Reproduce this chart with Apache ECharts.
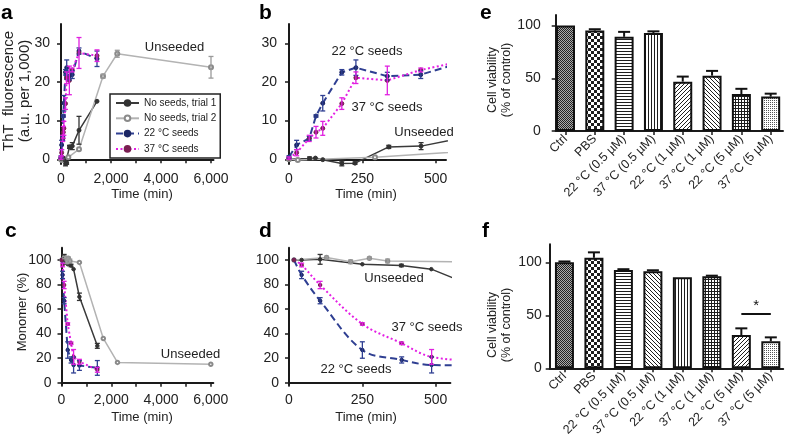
<!DOCTYPE html>
<html><head><meta charset="utf-8">
<script src="https://cdn.jsdelivr.net/npm/echarts@6/dist/echarts.min.js"></script>
<style>html,body{margin:0;padding:0;background:#fff}#c{width:788px;height:447px}</style>
</head><body><div id="c"></div>
<script>
// ---------------- DATA ----------------
// ThT fluorescence (a.u. per 1,000) — panels a & b
const thtT1Time = [0, 70, 90, 115, 180, 225, 340, 450, 720, 1440];
const thtT1Val  = [0, 0.2, 0.3, -0.1, -1.1, -1.0, 3.2, 3.4, 7.5, 15.0];
const thtT1Err  = [0, 0.4, 0, 0, 0.6, 0.3, 0.4, 0.9, 3.6, 0];
const thtT2Time = [0, 30, 293, 720, 1680, 2250, 6000];
const thtT2Val  = [0, -0.2, 0.5, 2.6, 21.5, 27.3, 23.8];
const thtT2Err  = [0, 0, 0, 0, 0.5, 0.9, 2.8];
const thtSeedTime = [0, 26, 69, 92, 115, 180, 228, 335, 449, 720, 1440];
const tht22Val = [0.6, 3.7, 5.4, 11.2, 14.5, 22.5, 23.7, 21.5, 21.9, 28.0, 26.0];
const tht22Err = [0.3, 1.2, 0.5, 0.3, 2.0, 0.7, 2.0, 1.0, 1.0, 0.8, 2.0];
const tht37Val = [0.3, 1.7, 5.4, 7.0, 8.0, 14.4, 21.1, 20.4, 23.1, 27.5, 26.8];
const tht37Err = [0.3, 0.8, 0.8, 1.5, 1.8, 1.5, 1.5, 3.7, 0.5, 4.0, 1.5];
// Monomer (%) — panels c & d
const monT1Time = [17, 43, 106, 250, 383, 485, 720, 1440];
const monT1Val  = [100, 100, 100.5, 96.5, 95.5, 92.5, 70, 30];
const monT1Err  = [0, 0, 4, 0, 1, 0, 3, 2];
const monT2Time = [17, 128, 210, 274, 336, 720, 1680, 2250, 6000];
const monT2Val  = [100, 102, 98.5, 101.4, 99.2, 98, 36, 16.5, 15];
const monT2Err  = [0, 1, 1.5, 1, 1.5, 0, 0, 0, 0];
const monSeedTime = [17, 43, 106, 250, 384, 486, 720, 1440];
const mon22Val = [100, 87.8, 66.8, 26.6, 18.5, 14.4, 14, 12];
const mon22Err = [0, 3, 2.5, 6.7, 2.5, 6.5, 4, 6];
const mon37Val = [100, 95.9, 79.6, 47.8, 32.1, 21, 17, 10.5];
const mon37Err = [0, 1.5, 3, 1, 1, 6, 2, 2];
// Cell viability (% of control) — panels e & f
const viabilityCats = ['Ctrl', 'PBS', '22 °C (0.5 µM)', '37 °C (0.5 µM)', '22 °C (1 µM)', '37 °C (1 µM)', '22 °C (5 µM)', '37 °C (5 µM)'];
const viabilityE    = [100, 95.2, 89.3, 93.0, 46.8, 52.5, 35.1, 32.6];
const viabilityEErr = [0, 1.3, 4.7, 1.5, 4.8, 4.5, 4.9, 2.8];
const viabilityF    = [100, 104.3, 92.7, 91.5, 85.8, 86.8, 31.4, 25.5];
const viabilityFErr = [0.8, 5.1, 0.8, 1.0, 0, 0.6, 6.3, 3.7];
const sigPair = [6, 7];
const sigLevel = 51;
// Tick values / labels
const longTimeTicks  = [0, 1000, 2000, 3000, 4000, 5000, 6000];
const longTimeLabels = [0, 2000, 4000, 6000];
const shortTimeTicks = [0, 250, 500];
const thtTicks = [0, 10, 20, 30];
const monTicks = [0, 20, 40, 60, 80, 100];
const viaTicks = [0, 50, 100];
const catTicks = [0, 1, 2, 3, 4, 5, 6, 7];
const seriesNames = ['No seeds, trial 1', 'No seeds, trial 2', '22 °C seeds', '37 °C seeds'];

// ---------------- STYLE HELPERS ----------------
const FONT = 'Liberation Sans, Arial, Helvetica, sans-serif';
const AX = '#1a1a1a';
function zip(t, v, e) { return t.map((x, i) => e ? [x, v[i], e[i]] : [x, v[i]]); }

const styles = [
  { line: { color: '#3a3a3a', width: 1.5, type: 'solid' }, sym: 'circle', symColor: '#333', err: '#333' },
  { line: { color: '#b3b3b3', width: 1.5, type: 'solid' }, sym: 'emptyCircle', symColor: '#8a8a8a', err: '#9a9a9a' },
  { line: { color: '#2f3f92', width: 2, type: [7, 4] }, sym: 'circle', symColor: '#1c2766', err: '#2f3f92' },
  { line: { color: '#e41fe4', width: 2, type: [2, 2.5] }, sym: 'circle', symColor: '#7a1f52', err: '#e020e0' }
];

function errRender(color, capHalf, lw, upperOnly) {
  return function (params, api) {
    const x = api.value(0), y = api.value(1), e = api.value(2);
    if (!e) return;
    const cs = params.coordSys;
    const top = api.coord([x, y + e]);
    const bot = api.coord([x, upperOnly ? y : y - e]);
    if (top[0] < cs.x - 1 || top[0] > cs.x + cs.width + 1) return;
    const ch = [
      { type: 'line', shape: { x1: top[0], y1: top[1], x2: bot[0], y2: bot[1] }, style: { stroke: color, lineWidth: lw } },
      { type: 'line', shape: { x1: top[0] - capHalf, y1: top[1], x2: top[0] + capHalf, y2: top[1] }, style: { stroke: color, lineWidth: lw } }
    ];
    if (!upperOnly) ch.push({ type: 'line', shape: { x1: bot[0] - capHalf, y1: bot[1], x2: bot[0] + capHalf, y2: bot[1] }, style: { stroke: color, lineWidth: lw } });
    return { type: 'group', children: ch };
  };
}

const series = [];
function addLines(gi, sets, symSize, smoothIdx) {
  sets.forEach((s, k) => {
    const st = styles[k];
    series.push({
      type: 'line', name: seriesNames[k], xAxisIndex: gi, yAxisIndex: gi,
      data: zip(s[0], s[1]), symbol: st.sym, symbolSize: symSize, showSymbol: true,
      smooth: (smoothIdx && smoothIdx.includes(k)) ? 0.35 : false,
      lineStyle: st.line, itemStyle: { color: st.symColor, borderColor: st.symColor, borderWidth: 1 },
      z: 3 + (k >= 2 ? 1 : 0), clip: true, animation: false
    });
    series.push({
      type: 'custom', name: seriesNames[k] + ' err' + gi, xAxisIndex: gi, yAxisIndex: gi,
      data: zip(s[0], s[1], s[2]), renderItem: errRender(st.err, 2.5, 1.3, false), z: 5, animation: false
    });
  });
}
const thtSets = [[thtT1Time, thtT1Val, thtT1Err], [thtT2Time, thtT2Val, thtT2Err], [thtSeedTime, tht22Val, tht22Err], [thtSeedTime, tht37Val, tht37Err]];
const monSets = [[monT1Time, monT1Val, monT1Err], [monT2Time, monT2Val, monT2Err], [monSeedTime, mon22Val, mon22Err], [monSeedTime, mon37Val, mon37Err]];
addLines(0, thtSets, 4);
addLines(1, thtSets, 4);
addLines(2, monSets, 3.5);
addLines(3, monSets, 3.5, [2, 3]);

// patterns for bars
function pat(draw, w, h) {
  const c = document.createElement('canvas'); c.width = w; c.height = h;
  const g = c.getContext('2d'); g.fillStyle = '#fff'; g.fillRect(0, 0, w, h);
  g.fillStyle = '#1e1e1e'; draw(g, w, h); return { image: c, repeat: 'repeat' };
}
const P = {
  fineChecker: pat(g => { g.fillStyle = '#aaa'; g.fillRect(0, 0, 2, 2); g.fillStyle = '#222'; g.fillRect(0, 0, 1, 1); g.fillRect(1, 1, 1, 1); }, 2, 2),
  checker: pat(g => { g.fillRect(0, 0, 3, 3); g.fillRect(3, 3, 3, 3); }, 6, 6),
  hLines: pat(g => { g.fillRect(0, 0, 3, 1); }, 3, 3),
  vLines: pat(g => { g.fillRect(0, 0, 1, 3); }, 3, 3),
  diagF: pat(g => { for (let i = 0; i < 4; i++) g.fillRect(3 - i, i, 1, 1); }, 4, 4),
  diagB: pat(g => { for (let i = 0; i < 4; i++) g.fillRect(i, i, 1, 1); }, 4, 4),
  grid: pat(g => { g.fillRect(0, 0, 3, 1); g.fillRect(0, 0, 1, 3); }, 3, 3),
  fineDots: pat(g => { g.fillStyle = '#555'; g.fillRect(0, 0, 1, 1); }, 2, 2)
};
const patE = [P.fineChecker, P.checker, P.hLines, P.vLines, P.diagF, P.diagB, P.grid, P.fineDots];
const patF = [P.fineChecker, P.checker, P.hLines, P.diagB, P.vLines, P.grid, P.diagF, P.fineDots];

function addBars(gi, vals, errs, pats, extra) {
  const s = {
    type: 'bar', name: 'viability' + gi, xAxisIndex: gi, yAxisIndex: gi, barWidth: 19,
    data: vals.map((v, i) => ({ value: [i, v], itemStyle: { color: pats[i] } })),
    itemStyle: { borderColor: '#111', borderWidth: 2 }, z: 3, animation: false
  };
  Object.assign(s, extra || {});
  series.push(s);
  series.push({
    type: 'custom', name: 'viability err' + gi, xAxisIndex: gi, yAxisIndex: gi,
    data: vals.map((v, i) => [i, v, errs[i]]), renderItem: errRender('#111', 6, 2, true), z: 2, animation: false
  });
}
addBars(4, viabilityE, viabilityEErr, patE);
addBars(5, viabilityF, viabilityFErr, patF, {
  markLine: {
    symbol: 'none', silent: true, animation: false,
    lineStyle: { color: '#111', width: 2, type: 'solid' },
    label: { show: true, position: 'middle', formatter: '*', fontSize: 15, color: '#111', fontFamily: FONT, distance: 1 },
    data: [[{ coord: [sigPair[0], sigLevel] }, { coord: [sigPair[1], sigLevel] }]]
  }
});

// ---------------- AXES ----------------
const grids = [
  { left: 61, top: 24, width: 152.5, height: 139.9 },
  { left: 289, top: 24, width: 157, height: 139.9 },
  { left: 61.5, top: 247.7, width: 151.8, height: 137.4 },
  { left: 289, top: 247.7, width: 161.4, height: 137.4 },
  { left: 555.7, top: 15, width: 227.3, height: 116 },
  { left: 549.7, top: 244.3, width: 233.5, height: 124 }
];
const axLine = { show: true, onZero: true, lineStyle: { color: AX, width: 2 } };
const lbl = { color: '#222', fontSize: 14, fontFamily: FONT };
const fmt = v => Number(v).toLocaleString('en-US');
function xVal(max, ticks, labels) {
  return { type: 'value', min: 0, max: max, splitLine: { show: false }, axisLine: axLine,
    axisTick: { show: true, length: 4, customValues: ticks, lineStyle: { color: AX, width: 1.5 } },
    axisLabel: Object.assign({ customValues: labels, margin: 8, formatter: fmt }, lbl) };
}
function yVal(min, max, ticks, margin) {
  return { type: 'value', min: min, max: max, splitLine: { show: false },
    axisLine: { show: true, onZero: false, lineStyle: { color: AX, width: 2 } },
    axisTick: { show: true, length: 4, customValues: ticks, lineStyle: { color: AX, width: 1.5 } },
    axisLabel: Object.assign({ customValues: ticks, margin: margin }, lbl) };
}
function xBar(min, max) {
  return { type: 'value', min: min, max: max, splitLine: { show: false },
    axisLine: { show: true, onZero: false, lineStyle: { color: AX, width: 2 } },
    axisTick: { show: true, length: 4, customValues: catTicks, lineStyle: { color: AX, width: 1.5 } },
    axisLabel: { customValues: catTicks, formatter: v => viabilityCats[Math.round(v)], rotate: 45, margin: 6,
      color: '#222', fontSize: 12.5, fontFamily: FONT } };
}
const xAxes = [
  xVal(6100, longTimeTicks, longTimeLabels),
  xVal(535, shortTimeTicks, shortTimeTicks),
  xVal(6100, longTimeTicks, longTimeLabels),
  xVal(550, shortTimeTicks, shortTimeTicks),
  xBar(-0.334, 7.42),
  xBar(-0.5, 7.42)
];
xAxes.forEach((a, i) => a.gridIndex = i);
const yAxes = [
  yVal(-1.2, 35, thtTicks, 11),
  yVal(-1.2, 35, thtTicks, 12),
  yVal(-2, 110, monTicks, 10),
  yVal(-2, 110, monTicks, 10),
  yVal(0, 110, viaTicks, 15),
  yVal(0, 117, viaTicks, 8)
];
yAxes.forEach((a, i) => a.gridIndex = i);

// ---------------- TEXT ----------------
function txt(s, x, y, size, opts) {
  return Object.assign({ type: 'text', x: x, y: y, silent: true,
    style: Object.assign({ text: s, fontSize: size, fontFamily: FONT, fill: '#222', align: 'center', verticalAlign: 'middle' }, (opts && opts.style) || {}) },
    opts && opts.el || {});
}
function vtxt(s, x, y, size) { return txt(s, x, y, size, { el: { rotation: Math.PI / 2 } }); }
const bold = { style: { fontWeight: 'bold', fill: '#000', align: 'left' } };
const graphic = [
  txt('a', 1, 13, 21, bold), txt('b', 259, 13, 21, bold), txt('e', 480, 13, 21, bold),
  txt('c', 5, 231, 21, bold), txt('d', 259, 231, 21, bold), txt('f', 482, 231, 21, bold),
  txt('Time (min)', 142, 194, 13), txt('Time (min)', 366, 194, 13),
  txt('Time (min)', 142, 417, 13), txt('Time (min)', 366, 417, 13),
  vtxt('ThT  fluorescence', 9, 91, 15), vtxt('(a.u. per 1,000)', 25, 91, 15),
  vtxt('Monomer (%)', 22, 312, 13),
  vtxt('Cell viability', 493, 80, 12.5), vtxt('(% of control)', 507, 80, 12.5),
  vtxt('Cell viability', 493, 325, 12.5), vtxt('(% of control)', 507, 325, 12.5),
  txt('Unseeded', 174.5, 47, 13),
  txt('22 °C seeds', 367, 51, 13), txt('37 °C seeds', 387, 107, 13), txt('Unseeded', 424, 132, 13),
  txt('Unseeded', 190.5, 354, 13),
  txt('Unseeded', 394, 278, 13), txt('37 °C seeds', 427, 327, 13), txt('22 °C seeds', 356, 369, 13)
];

const chart = echarts.init(document.getElementById('c'), null, { renderer: 'canvas' });
chart.setOption({
  animation: false,
  backgroundColor: '#fff',
  grid: grids,
  xAxis: xAxes,
  yAxis: yAxes,
  legend: {
    data: seriesNames, left: 110, top: 94, orient: 'vertical', selectedMode: false,
    itemWidth: 23, itemHeight: 7, itemGap: 3.3, padding: [3, 4, 3, 5],
    borderColor: '#222', borderWidth: 1.5, backgroundColor: '#fff', borderRadius: 0,
    textStyle: { fontSize: 10, fontFamily: FONT, color: '#222', lineHeight: 12 }, z: 10
  },
  graphic: graphic,
  series: series
});
</script></body></html>
